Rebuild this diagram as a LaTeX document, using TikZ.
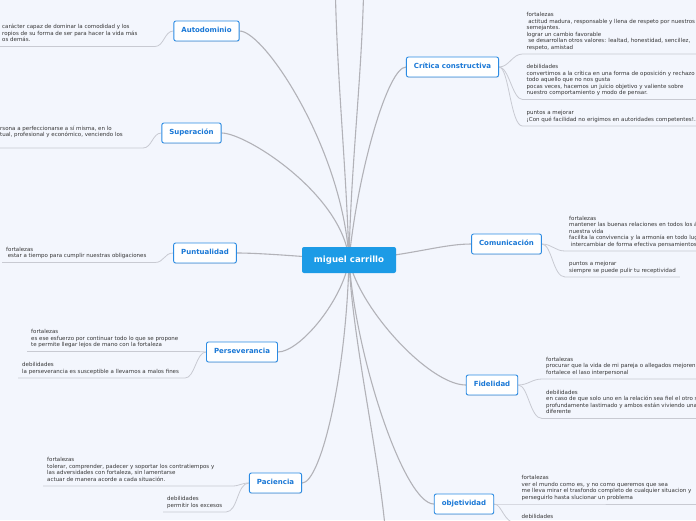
\documentclass[tikz,border=0pt]{standalone}
\usepackage{fontspec}
\setmainfont{DejaVu Sans}
\usetikzlibrary{backgrounds,shadows}

\definecolor{paper}{HTML}{F3F6FD}
\definecolor{limbgray}{HTML}{B2B2B8}
\definecolor{twiggray}{HTML}{C8CAD2}
\definecolor{mapblue}{HTML}{1C9BE6}
\definecolor{edgeblue}{HTML}{2B8BE3}
\definecolor{labelblue}{HTML}{1A78D6}
\definecolor{leafgray}{HTML}{363636}

\begin{document}
\begin{tikzpicture}[
    x=1pt, y=-1pt,
    root/.style={rectangle, fill=mapblue, rounded corners=2pt, text=white,
                 font=\fontsize{8.6}{10}\selectfont\bfseries,
                 text height=6.4pt, text depth=1.8pt,
                 minimum width=94pt, minimum height=26pt},
    topic/.style={rectangle, draw=edgeblue, line width=0.9pt, fill=white,
                  rounded corners=2pt, text=labelblue,
                  font=\fontsize{7}{8}\selectfont\bfseries,
                  text height=5.2pt, text depth=1.4pt,
                  inner xsep=7.5pt, minimum height=20pt,
                  drop shadow={shadow xshift=0.4pt, shadow yshift=-0.8pt, opacity=0.18}},
    leaf/.style={anchor=south west, align=left, text=leafgray,
                 inner xsep=4pt, inner ysep=3pt, text depth=1.5pt,
                 font=\fontsize{5.5}{6.5}\selectfont},
    limb/.style={draw=limbgray, line width=1.1pt},
    twig/.style={draw=twiggray, line width=0.8pt}
  ]
  \useasboundingbox (0,0) rectangle (696,520);
  \clip (0,0) rectangle (696,520);

  % main topics
  \node[root]  (miguel)  at (349,260)   {miguel carrillo};
  \node[topic] (autodom) at (206.5,31)  {Autodominio};
  \node[topic] (superac) at (191.5,133) {Superación};
  \node[topic] (puntual) at (205,253)   {Puntualidad};
  \node[topic] (persev)  at (242,352)   {Perseverancia};
  \node[topic] (pacien)  at (275.5,483) {Paciencia};
  \node[topic] (critica) at (452.5,67)  {Crítica constructiva};
  \node[topic] (comunic) at (506.5,244) {Comunicación};
  \node[topic] (fidel)   at (492,385)   {Fidelidad};
  \node[topic] (objet)   at (464,504)   {objetividad};

  % branches that leave the page
  \coordinate (upleft)  at (335,-30);
  \coordinate (upright) at (364,-30);
  \coordinate (downmid) at (386.5,545);

  % left notes
  \node[leaf] (a1) at (-2,46.5) {carácter capaz de dominar la comodidad y los\\ropios de su forma de ser para hacer la vida más\\os demás.};
  \coordinate (a1end) at (155,46.5);
  \node[leaf] (s1) at (-4,148) {rsona a perfeccionarse a sí misma, en lo\\tual, profesional y económico, venciendo los\\\mbox{}};
  \coordinate (s1end) at (143,148);
  \node[leaf] (pu1) at (2,262.5) {fortalezas\\\hspace*{1.6pt}estar a tiempo para cumplir nuestras obligaciones};
  \coordinate (pu1end) at (155,262.5);
  \node[leaf] (pe1) at (27,351.5) {fortalezas\\es ese esfuerzo por continuar todo lo que se propone\\te permite llegar lejos de mano con la fortaleza};
  \coordinate (pe1end) at (197,351.5);
  \node[leaf] (pe2) at (18,378) {debilidades\\la perseverancia es susceptible a llevarnos a malos fines};
  \coordinate (pe2end) at (185,378);
  \node[leaf] (pa1) at (43,486) {fortalezas\\tolerar, comprender, padecer y soportar los contratiempos y\\las adversidades con fortaleza, sin lamentarse\\actuar de manera acorde a cada situación.};
  \coordinate (pa1end) at (232,486);
  \node[leaf] (pa2) at (163,512) {debilidades\\permitir los excesos};
  \coordinate (pa2end) at (226,512);

  % right notes
  \node[leaf] (c1) at (522.5,54) {fortalezas\\\hspace*{1.6pt}actitud madura, responsable y llena de respeto por nuestros\\semejantes.\\lograr un cambio favorable\\\hspace*{1.6pt}se desarrollan otros valores: lealtad, honestidad, sencillez,\\respeto, amistad};
  \node[leaf] (c2) at (522.5,99.5) {debilidades\\convertimos a la crítica en una forma de oposición y rechazo\\todo aquello que no nos gusta\\pocas veces, hacemos un juicio objetivo y valiente sobre\\nuestro comportamiento y modo de pensar.};
  \node[leaf] (c3) at (522.5,126) {puntos a mejorar\\¡Con qué facilidad no erigimos en autoridades competentes!.};
  \node[leaf] (co1) at (565,251) {fortalezas\\mantener las buenas relaciones en todos los ámbitos de\\nuestra vida\\facilita la convivencia y la armonía en todo lugar\\\hspace*{1.6pt}intercambiar de forma efectiva pensamientos};
  \node[leaf] (co2) at (565,277) {puntos a mejorar\\siempre se puede pulir tu receptividad};
  \node[leaf] (f1) at (542,379) {fortalezas\\procurar que la vida de mi pareja o allegados mejoren\\fortalece el laso interpersonal};
  \node[leaf] (f2) at (542,418.5) {debilidades\\en caso de que solo uno en la relación sea fiel el otro será\\profundamente lastimado y ambos están viviendo una\\diferente};
  \node[leaf] (o1) at (517.5,504) {fortalezas\\ver el mundo como es, y no como queremos que sea\\me lleva mirar el trasfondo completo de cualquier situacion y\\perseguirlo hasta slucionar un problema};
  \node[leaf] (o2) at (517.5,523.5) {debilidades};

  \begin{scope}[on background layer]
    \clip (0,0) rectangle (696,520);
    \fill[paper] (0,0) rectangle (696,520);
    % limbs from the centre
    \draw[limb] (miguel.center) .. controls +(-6,-110) and +(25,0) .. (autodom.east);
    \draw[limb] (miguel.center) .. controls +(-6,-65) and +(25,0) .. (superac.east);
    \draw[limb] (miguel.center) .. controls +(-40,-3) and +(25,0) .. (puntual.east);
    \draw[limb] (miguel.center) .. controls +(-6,40) and +(22,0) .. (persev.east);
    \draw[limb] (miguel.center) .. controls +(-3,120) and +(18,0) .. (pacien.east);
    \draw[limb] (miguel.center) .. controls +(3,80) and +(-5,-80) .. (downmid);
    \draw[limb] (miguel.center) .. controls +(7,100) and +(-29,0) .. (objet.west);
    \draw[limb] (miguel.center) .. controls +(11,50) and +(-36,0) .. (fidel.west);
    \draw[limb] (miguel.center) .. controls +(60,-4) and +(-30,0) .. (comunic.west);
    \draw[limb] (miguel.center) .. controls +(9,-90) and +(-18,0) .. (critica.west);
    \draw[limb] (miguel.center) .. controls +(-3,-100) and +(1,100) .. (upleft);
    \draw[limb] (miguel.center) .. controls +(2,-100) and +(-1,100) .. (upright);
    % twigs to the notes
    \draw[twig] (autodom.west) .. controls +(-9,0) and +(9,0) .. (a1end) -- (a1.south west);
    \draw[twig] (superac.west) .. controls +(-9,0) and +(9,0) .. (s1end) -- (s1.south west);
    \draw[twig] (puntual.west) .. controls +(-9,0) and +(9,0) .. (pu1end) -- (pu1.south west);
    \draw[twig] (persev.west) .. controls +(-4,0) and +(4,0) .. (pe1end) -- (pe1.south west);
    \draw[twig] (persev.west) .. controls +(-10,0) and +(10,0) .. (pe2end) -- (pe2.south west);
    \draw[twig] (pacien.west) .. controls +(-8,0) and +(8,0) .. (pa1end) -- (pa1.south west);
    \draw[twig] (pacien.west) .. controls +(-12,0) and +(12,0) .. (pa2end) -- (pa2.south west);
    \draw[twig] (critica.east) .. controls +(10,0) and +(-10,0) .. (c1.south west) -- (c1.south east);
    \draw[twig] (critica.east) .. controls +(10,0) and +(-10,0) .. (c2.south west) -- (c2.south east);
    \draw[twig] (critica.east) .. controls +(10,0) and +(-12,0) .. (c3.south west) -- (c3.south east);
    \draw[twig] (comunic.east) .. controls +(10,0) and +(-10,0) .. (co1.south west) -- (co1.south east);
    \draw[twig] (comunic.east) .. controls +(10,0) and +(-12,0) .. (co2.south west) -- (co2.south east);
    \draw[twig] (fidel.east) .. controls +(10,0) and +(-10,0) .. (f1.south west) -- (f1.south east);
    \draw[twig] (fidel.east) .. controls +(10,0) and +(-12,0) .. (f2.south west) -- (f2.south east);
    \draw[twig] (objet.east) .. controls +(10,0) and +(-10,0) .. (o1.south west) -- (o1.south east);
    \draw[twig] (objet.east) .. controls +(8,0) and +(-14,0) .. (o2.south west) -- (o2.south east);
  \end{scope}
\end{tikzpicture}
\end{document}
